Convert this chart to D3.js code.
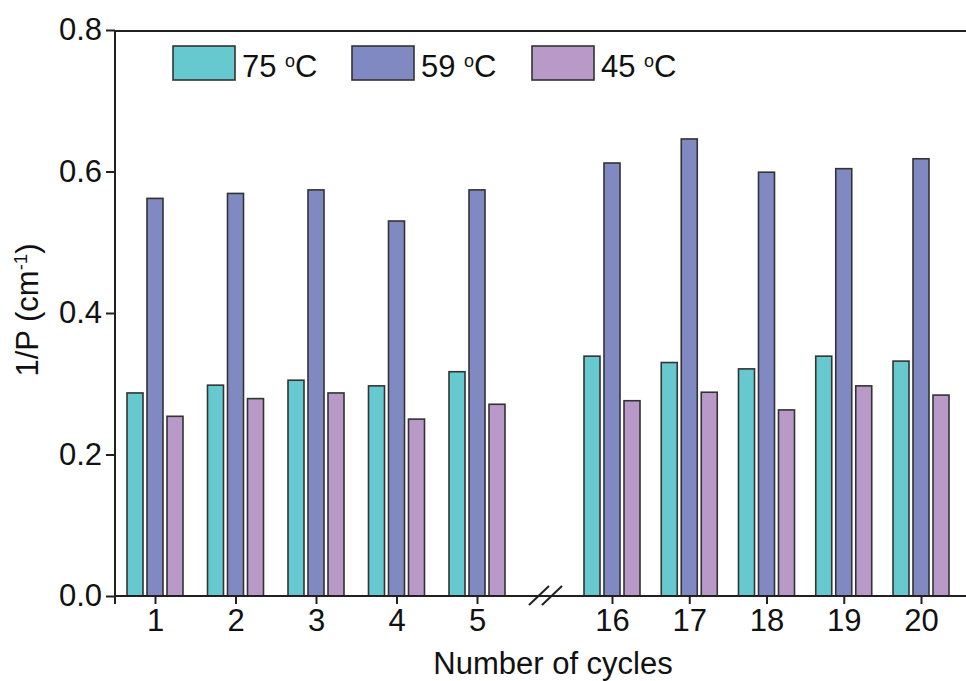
<!DOCTYPE html>
<html>
<head>
<meta charset="utf-8">
<script src="https://cdn.jsdelivr.net/npm/d3@7"></script>
<style>
  body { margin: 0; background: #fff; }
  text { font-family: "Liberation Sans", Arial, sans-serif; fill: #111; }
</style>
</head>
<body>
<svg id="chart"></svg>
<script>
const cycles = [1, 2, 3, 4, 5, 16, 17, 18, 19, 20];
const seriesNames = ["75", "59", "45"];
const t75 = [0.287, 0.298, 0.305, 0.297, 0.317, 0.339, 0.330, 0.321, 0.339, 0.332];
const t59 = [0.562, 0.569, 0.574, 0.530, 0.574, 0.612, 0.646, 0.599, 0.604, 0.618];
const t45 = [0.254, 0.279, 0.287, 0.250, 0.271, 0.276, 0.288, 0.263, 0.297, 0.284];
const yTicks = [0, 0.2, 0.4, 0.6, 0.8];

const width = 966, height = 681;
const colors = ["#66c9cf", "#8089c2", "#b899c8"];
const fontSize = 31;

const svg = d3.select("#chart").attr("width", width).attr("height", height);

// broken x axis: piecewise linear scale over the two cycle ranges
const x = d3.scaleLinear().domain([1, 5, 16, 20]).range([155, 477, 612, 921]);
const y = d3.scaleLinear().domain([0, 0.8]).range([596, 30]);
const inner = d3.scaleBand().domain(seriesNames).range([-28, 28]).paddingInner(0.2);

const values = [t75, t59, t45];
const rows = [];
cycles.forEach((c, i) => {
  seriesNames.forEach((s, j) => rows.push({ cycle: c, series: s, j: j, value: values[j][i] }));
});

// bars
svg.append("g").selectAll("rect")
  .data(rows)
  .join("rect")
  .attr("x", d => x(d.cycle) + inner(d.series))
  .attr("y", d => y(d.value))
  .attr("width", inner.bandwidth())
  .attr("height", d => y(0) - y(d.value))
  .attr("fill", d => colors[d.j])
  .attr("stroke", "#333")
  .attr("stroke-width", 1.6);

// y axis
const yAxis = svg.append("g")
  .attr("transform", `translate(115,0)`)
  .call(d3.axisLeft(y).tickValues(yTicks).tickFormat(d3.format(".1f")).tickSize(9).tickPadding(4));
yAxis.select(".domain").remove();
yAxis.append("line").attr("x1", 0).attr("x2", 0).attr("y1", 30).attr("y2", 604)
  .attr("stroke", "#231f20").attr("stroke-width", 2);
yAxis.selectAll(".tick line").attr("stroke", "#231f20").attr("stroke-width", 2);
yAxis.selectAll(".tick text").attr("font-size", fontSize).attr("fill", "#111")
  .attr("font-family", "Liberation Sans, Arial, sans-serif");

// x axis
const xAxis = svg.append("g")
  .attr("transform", `translate(0,${y(0)})`)
  .call(d3.axisBottom(x).tickValues(cycles).tickFormat(d3.format("d")).tickSize(8).tickPadding(5));
xAxis.select(".domain").remove();
xAxis.append("line").attr("x1", 115).attr("x2", width).attr("y1", 0).attr("y2", 0)
  .attr("stroke", "#231f20").attr("stroke-width", 2);
xAxis.selectAll(".tick line").attr("stroke", "#231f20").attr("stroke-width", 2);
xAxis.selectAll(".tick text").attr("font-size", fontSize).attr("fill", "#111")
  .attr("font-family", "Liberation Sans, Arial, sans-serif");

// axis break marks
const bx = (x(5) + x(16)) / 2 + 1;
[-6.5, 6.5].forEach(off => {
  svg.append("line")
    .attr("x1", bx + off - 10).attr("y1", y(0) + 9)
    .attr("x2", bx + off + 10).attr("y2", y(0) - 10)
    .attr("stroke", "#231f20").attr("stroke-width", 2);
});

// top frame line
svg.append("line").attr("x1", 115).attr("x2", width).attr("y1", 31).attr("y2", 31)
  .attr("stroke", "#231f20").attr("stroke-width", 2);

// axis titles
svg.append("text")
  .attr("x", 553).attr("y", 674)
  .attr("text-anchor", "middle")
  .attr("font-size", fontSize)
  .text("Number of cycles");

const yl = svg.append("text")
  .attr("transform", "translate(38,310) rotate(-90)")
  .attr("text-anchor", "middle")
  .attr("font-size", fontSize);
yl.append("tspan").text("1/P (cm");
yl.append("tspan").attr("font-size", fontSize * 0.6).attr("dy", -11).text("-1");
yl.append("tspan").attr("dy", 11).text(")");

// legend
const legendX = [173, 352, 532];
const lg = svg.append("g").selectAll("g")
  .data(seriesNames)
  .join("g")
  .attr("transform", (d, i) => `translate(${legendX[i]},46)`);
lg.append("rect")
  .attr("width", 62).attr("height", 34)
  .attr("fill", (d, i) => colors[i])
  .attr("stroke", "#333").attr("stroke-width", 1.6);
const lt = lg.append("text")
  .attr("x", 69).attr("y", 31)
  .attr("font-size", fontSize);
lt.append("tspan").text(d => d + " ");
lt.append("tspan").attr("font-size", fontSize * 0.58).attr("dy", -10).text("o");
lt.append("tspan").attr("dy", 10).text("C");
</script>
</body>
</html>
